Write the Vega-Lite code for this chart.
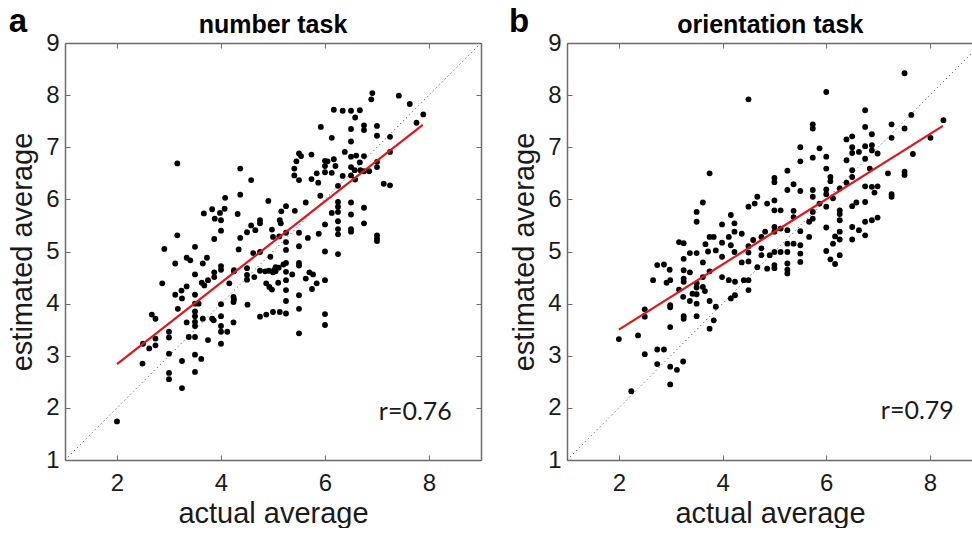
{
  "$schema": "https://vega.github.io/schema/vega-lite/v6.json",
  "background": "white",
  "padding": {"left": 8, "top": 6, "right": 0, "bottom": 0},
  "spacing": 26,
  "config": {
    "view": {"stroke": null},
    "font": "Liberation Sans",
    "axis": {
      "grid": false,
      "domainColor": "#6b6b6b",
      "domainWidth": 1.5,
      "tickColor": "#6b6b6b",
      "tickWidth": 1,
      "tickSize": -5,
      "labelFont": "Liberation Sans",
      "labelFontSize": 24,
      "labelColor": "#1a1a1a",
      "titleFont": "Liberation Sans",
      "titleFontSize": 29,
      "titleFontWeight": "normal",
      "titleColor": "#1a1a1a"
    }
  },
  "datasets": {
    "identity": [{"x": 1, "y": 1}, {"x": 9, "y": 9}],
    "fitNumber": [{"x": 2, "y": 2.84}, {"x": 7.88, "y": 7.43}],
    "fitOrientation": [{"x": 2, "y": 3.5}, {"x": 8.25, "y": 7.41}],
    "numberTask": [
      {"actual": 2.0, "estimated": 1.74}, {"actual": 2.49, "estimated": 2.85}, {"actual": 2.5, "estimated": 3.23}, {"actual": 2.62, "estimated": 3.14},
      {"actual": 2.67, "estimated": 3.79}, {"actual": 2.74, "estimated": 3.71}, {"actual": 2.74, "estimated": 3.33}, {"actual": 2.74, "estimated": 3.2},
      {"actual": 2.87, "estimated": 4.39}, {"actual": 2.91, "estimated": 5.05}, {"actual": 3.0, "estimated": 3.46}, {"actual": 3.0, "estimated": 3.35},
      {"actual": 3.0, "estimated": 3.04}, {"actual": 3.0, "estimated": 2.67}, {"actual": 3.0, "estimated": 2.55}, {"actual": 3.12, "estimated": 4.77},
      {"actual": 3.12, "estimated": 4.17}, {"actual": 3.16, "estimated": 5.31}, {"actual": 3.16, "estimated": 6.69}, {"actual": 3.17, "estimated": 3.9},
      {"actual": 3.24, "estimated": 4.25}, {"actual": 3.25, "estimated": 2.9}, {"actual": 3.25, "estimated": 2.38}, {"actual": 3.34, "estimated": 4.33},
      {"actual": 3.34, "estimated": 4.88}, {"actual": 3.34, "estimated": 3.64}, {"actual": 3.38, "estimated": 3.36}, {"actual": 3.41, "estimated": 4.83},
      {"actual": 3.5, "estimated": 5.09}, {"actual": 3.5, "estimated": 4.56}, {"actual": 3.5, "estimated": 4.17}, {"actual": 3.5, "estimated": 4.0},
      {"actual": 3.5, "estimated": 3.85}, {"actual": 3.5, "estimated": 3.76}, {"actual": 3.5, "estimated": 3.65}, {"actual": 3.5, "estimated": 3.57},
      {"actual": 3.5, "estimated": 3.36}, {"actual": 3.5, "estimated": 3.02}, {"actual": 3.5, "estimated": 2.69}, {"actual": 3.57, "estimated": 4.0},
      {"actual": 3.62, "estimated": 2.94}, {"actual": 3.63, "estimated": 4.4}, {"actual": 3.65, "estimated": 4.77}, {"actual": 3.68, "estimated": 4.35},
      {"actual": 3.65, "estimated": 3.71}, {"actual": 3.73, "estimated": 4.88}, {"actual": 3.75, "estimated": 3.3}, {"actual": 3.83, "estimated": 3.71},
      {"actual": 3.86, "estimated": 3.68}, {"actual": 3.87, "estimated": 4.6}, {"actual": 3.87, "estimated": 4.51}, {"actual": 3.87, "estimated": 5.24},
      {"actual": 3.83, "estimated": 5.81}, {"actual": 3.67, "estimated": 5.73}, {"actual": 3.88, "estimated": 5.63}, {"actual": 4.0, "estimated": 5.6},
      {"actual": 3.98, "estimated": 5.74}, {"actual": 4.07, "estimated": 5.82}, {"actual": 4.08, "estimated": 6.03}, {"actual": 4.0, "estimated": 5.4},
      {"actual": 4.0, "estimated": 4.72}, {"actual": 4.0, "estimated": 4.65}, {"actual": 4.0, "estimated": 3.99}, {"actual": 4.0, "estimated": 3.76},
      {"actual": 4.0, "estimated": 3.57}, {"actual": 4.0, "estimated": 3.46}, {"actual": 4.0, "estimated": 3.23}, {"actual": 4.12, "estimated": 3.46},
      {"actual": 4.16, "estimated": 4.39}, {"actual": 4.24, "estimated": 4.13}, {"actual": 4.24, "estimated": 4.03}, {"actual": 4.24, "estimated": 3.64},
      {"actual": 4.32, "estimated": 5.72}, {"actual": 4.37, "estimated": 6.09}, {"actual": 4.37, "estimated": 6.59}, {"actual": 4.37, "estimated": 5.26},
      {"actual": 4.34, "estimated": 5.04}, {"actual": 4.25, "estimated": 4.64}, {"actual": 4.5, "estimated": 5.37}, {"actual": 4.5, "estimated": 4.68},
      {"actual": 4.5, "estimated": 4.46}, {"actual": 4.51, "estimated": 3.98}, {"actual": 4.58, "estimated": 6.37}, {"actual": 4.58, "estimated": 5.5},
      {"actual": 4.62, "estimated": 4.97}, {"actual": 4.64, "estimated": 4.51}, {"actual": 4.66, "estimated": 5.41}, {"actual": 4.75, "estimated": 5.6},
      {"actual": 4.75, "estimated": 5.54}, {"actual": 4.75, "estimated": 4.63}, {"actual": 4.75, "estimated": 3.75}, {"actual": 4.87, "estimated": 3.79},
      {"actual": 4.91, "estimated": 5.97}, {"actual": 4.87, "estimated": 4.39}, {"actual": 4.93, "estimated": 4.32}, {"actual": 4.98, "estimated": 5.42},
      {"actual": 5.0, "estimated": 5.28}, {"actual": 5.0, "estimated": 3.84}, {"actual": 4.98, "estimated": 4.27}, {"actual": 5.13, "estimated": 5.6},
      {"actual": 5.15, "estimated": 5.54}, {"actual": 5.16, "estimated": 5.77}, {"actual": 5.12, "estimated": 5.29}, {"actual": 5.02, "estimated": 4.64},
      {"actual": 5.11, "estimated": 4.69}, {"actual": 5.13, "estimated": 3.84}, {"actual": 5.0, "estimated": 4.6}, {"actual": 5.05, "estimated": 4.62},
      {"actual": 4.95, "estimated": 4.9}, {"actual": 5.1, "estimated": 4.4}, {"actual": 4.25, "estimated": 4.08}, {"actual": 4.5, "estimated": 4.55},
      {"actual": 3.75, "estimated": 4.45}, {"actual": 3.25, "estimated": 4.1}, {"actual": 5.7, "estimated": 4.6},
      {"actual": 4.85, "estimated": 4.62}, {"actual": 4.92, "estimated": 4.63}, {"actual": 5.05, "estimated": 4.7}, {"actual": 5.2, "estimated": 4.75},
      {"actual": 4.75, "estimated": 4.99}, {"actual": 4.25, "estimated": 4.62},
      {"actual": 5.25, "estimated": 5.87}, {"actual": 5.25, "estimated": 5.36}, {"actual": 5.25, "estimated": 5.18}, {"actual": 5.25, "estimated": 5.03},
      {"actual": 5.25, "estimated": 4.78}, {"actual": 5.25, "estimated": 4.61}, {"actual": 5.25, "estimated": 4.45}, {"actual": 5.25, "estimated": 4.26},
      {"actual": 5.25, "estimated": 4.05}, {"actual": 5.25, "estimated": 3.81}, {"actual": 5.42, "estimated": 5.78}, {"actual": 5.37, "estimated": 4.56},
      {"actual": 5.5, "estimated": 6.88}, {"actual": 5.5, "estimated": 5.36}, {"actual": 5.5, "estimated": 5.1}, {"actual": 5.5, "estimated": 4.78},
      {"actual": 5.5, "estimated": 4.73}, {"actual": 5.5, "estimated": 4.16}, {"actual": 5.5, "estimated": 3.9}, {"actual": 5.5, "estimated": 3.43},
      {"actual": 5.54, "estimated": 6.83}, {"actual": 5.41, "estimated": 6.59}, {"actual": 5.45, "estimated": 6.73}, {"actual": 5.41, "estimated": 6.46},
      {"actual": 5.5, "estimated": 6.37}, {"actual": 5.63, "estimated": 5.94}, {"actual": 5.63, "estimated": 4.48}, {"actual": 5.67, "estimated": 5.26},
      {"actual": 5.74, "estimated": 6.86}, {"actual": 5.74, "estimated": 6.39}, {"actual": 5.77, "estimated": 4.56}, {"actual": 5.84, "estimated": 4.39},
      {"actual": 5.84, "estimated": 6.5}, {"actual": 5.87, "estimated": 6.32}, {"actual": 5.75, "estimated": 4.28}, {"actual": 5.88, "estimated": 5.34},
      {"actual": 5.92, "estimated": 7.39}, {"actual": 5.91, "estimated": 6.07},
      {"actual": 6.0, "estimated": 6.74}, {"actual": 6.0, "estimated": 6.64}, {"actual": 6.0, "estimated": 6.52}, {"actual": 6.0, "estimated": 5.52},
      {"actual": 6.0, "estimated": 5.0}, {"actual": 6.0, "estimated": 4.45}, {"actual": 6.0, "estimated": 3.8}, {"actual": 6.0, "estimated": 3.59},
      {"actual": 6.05, "estimated": 6.73}, {"actual": 6.13, "estimated": 7.18}, {"actual": 6.13, "estimated": 6.51}, {"actual": 6.13, "estimated": 5.74},
      {"actual": 6.17, "estimated": 7.72}, {"actual": 6.17, "estimated": 6.77}, {"actual": 6.2, "estimated": 6.64},
      {"actual": 6.25, "estimated": 6.26}, {"actual": 6.25, "estimated": 5.95}, {"actual": 6.25, "estimated": 5.86}, {"actual": 6.25, "estimated": 5.76},
      {"actual": 6.25, "estimated": 5.58}, {"actual": 6.25, "estimated": 5.43}, {"actual": 6.25, "estimated": 5.33}, {"actual": 6.25, "estimated": 4.95},
      {"actual": 6.34, "estimated": 7.7}, {"actual": 6.34, "estimated": 6.45}, {"actual": 6.38, "estimated": 6.91},
      {"actual": 6.5, "estimated": 7.7}, {"actual": 6.5, "estimated": 7.35}, {"actual": 6.5, "estimated": 7.11}, {"actual": 6.5, "estimated": 6.82},
      {"actual": 6.5, "estimated": 6.62}, {"actual": 6.5, "estimated": 6.46}, {"actual": 6.5, "estimated": 5.94}, {"actual": 6.5, "estimated": 5.71},
      {"actual": 6.5, "estimated": 5.43}, {"actual": 6.5, "estimated": 5.38}, {"actual": 6.58, "estimated": 7.57}, {"actual": 6.6, "estimated": 6.84},
      {"actual": 6.57, "estimated": 6.56}, {"actual": 6.58, "estimated": 6.38}, {"actual": 6.67, "estimated": 7.71}, {"actual": 6.67, "estimated": 6.71},
      {"actual": 6.68, "estimated": 6.56},
      {"actual": 6.75, "estimated": 7.42}, {"actual": 6.75, "estimated": 7.33}, {"actual": 6.75, "estimated": 6.83}, {"actual": 6.75, "estimated": 6.54},
      {"actual": 6.75, "estimated": 5.84}, {"actual": 6.75, "estimated": 5.54}, {"actual": 6.85, "estimated": 6.54}, {"actual": 6.89, "estimated": 7.92},
      {"actual": 6.91, "estimated": 8.04},
      {"actual": 7.0, "estimated": 7.41}, {"actual": 7.0, "estimated": 7.22}, {"actual": 7.0, "estimated": 6.72}, {"actual": 7.0, "estimated": 6.62},
      {"actual": 7.0, "estimated": 5.31}, {"actual": 7.0, "estimated": 5.25}, {"actual": 7.0, "estimated": 5.2}, {"actual": 7.13, "estimated": 6.3},
      {"actual": 7.25, "estimated": 7.2}, {"actual": 7.25, "estimated": 6.91}, {"actual": 7.25, "estimated": 6.27}, {"actual": 7.42, "estimated": 7.99},
      {"actual": 7.63, "estimated": 7.83}, {"actual": 7.76, "estimated": 7.47}, {"actual": 7.89, "estimated": 7.63}
    ],
    "orientationTask": [
      {"actual": 2.0, "estimated": 3.32}, {"actual": 2.24, "estimated": 2.32}, {"actual": 2.37, "estimated": 3.39}, {"actual": 2.5, "estimated": 3.89},
      {"actual": 2.5, "estimated": 3.75}, {"actual": 2.5, "estimated": 3.03}, {"actual": 2.66, "estimated": 4.45}, {"actual": 2.74, "estimated": 4.74},
      {"actual": 2.74, "estimated": 3.12}, {"actual": 2.87, "estimated": 3.12}, {"actual": 2.74, "estimated": 2.84}, {"actual": 2.87, "estimated": 4.75},
      {"actual": 2.92, "estimated": 4.4}, {"actual": 2.98, "estimated": 4.65}, {"actual": 2.99, "estimated": 4.45}, {"actual": 2.99, "estimated": 3.97},
      {"actual": 2.99, "estimated": 3.93}, {"actual": 2.99, "estimated": 3.55}, {"actual": 2.99, "estimated": 2.79}, {"actual": 2.99, "estimated": 2.45},
      {"actual": 3.12, "estimated": 2.73}, {"actual": 3.24, "estimated": 2.89}, {"actual": 3.16, "estimated": 5.18}, {"actual": 3.25, "estimated": 5.16},
      {"actual": 3.16, "estimated": 4.27}, {"actual": 3.25, "estimated": 4.86}, {"actual": 3.25, "estimated": 4.64}, {"actual": 3.25, "estimated": 4.48},
      {"actual": 3.25, "estimated": 4.42}, {"actual": 3.24, "estimated": 4.13}, {"actual": 3.25, "estimated": 3.76}, {"actual": 3.25, "estimated": 3.71},
      {"actual": 3.37, "estimated": 4.97}, {"actual": 3.37, "estimated": 4.6}, {"actual": 3.37, "estimated": 4.05}, {"actual": 3.42, "estimated": 4.19},
      {"actual": 3.5, "estimated": 4.97}, {"actual": 3.5, "estimated": 5.76}, {"actual": 3.5, "estimated": 5.57}, {"actual": 3.5, "estimated": 4.39},
      {"actual": 3.5, "estimated": 4.18}, {"actual": 3.5, "estimated": 4.0}, {"actual": 3.5, "estimated": 3.76}, {"actual": 3.5, "estimated": 4.31},
      {"actual": 3.62, "estimated": 5.94}, {"actual": 3.62, "estimated": 4.79}, {"actual": 3.62, "estimated": 4.51}, {"actual": 3.62, "estimated": 4.32},
      {"actual": 3.66, "estimated": 4.24}, {"actual": 3.67, "estimated": 5.14}, {"actual": 3.72, "estimated": 5.0}, {"actual": 3.75, "estimated": 6.5},
      {"actual": 3.75, "estimated": 5.28}, {"actual": 3.75, "estimated": 4.62}, {"actual": 3.75, "estimated": 4.05}, {"actual": 3.75, "estimated": 3.52},
      {"actual": 3.83, "estimated": 3.68}, {"actual": 3.83, "estimated": 5.28}, {"actual": 3.87, "estimated": 5.02}, {"actual": 3.87, "estimated": 3.94},
      {"actual": 3.99, "estimated": 5.52}, {"actual": 3.99, "estimated": 5.17}, {"actual": 3.99, "estimated": 4.9}, {"actual": 3.99, "estimated": 4.51},
      {"actual": 4.12, "estimated": 5.28}, {"actual": 4.12, "estimated": 4.45}, {"actual": 4.16, "estimated": 5.7}, {"actual": 4.16, "estimated": 5.12},
      {"actual": 4.16, "estimated": 4.1}, {"actual": 4.23, "estimated": 5.54}, {"actual": 4.23, "estimated": 5.38}, {"actual": 4.23, "estimated": 4.99},
      {"actual": 4.24, "estimated": 4.42}, {"actual": 4.24, "estimated": 4.16}, {"actual": 4.37, "estimated": 5.34}, {"actual": 4.37, "estimated": 4.79},
      {"actual": 4.41, "estimated": 4.45}, {"actual": 4.5, "estimated": 4.45}, {"actual": 4.5, "estimated": 4.26}, {"actual": 4.5, "estimated": 5.86},
      {"actual": 4.5, "estimated": 5.1}, {"actual": 4.5, "estimated": 4.98}, {"actual": 4.5, "estimated": 4.81}, {"actual": 4.5, "estimated": 7.92},
      {"actual": 4.62, "estimated": 5.92}, {"actual": 4.59, "estimated": 5.22}, {"actual": 4.67, "estimated": 6.05}, {"actual": 4.67, "estimated": 4.7},
      {"actual": 4.75, "estimated": 5.28}, {"actual": 4.75, "estimated": 5.06}, {"actual": 4.75, "estimated": 4.93}, {"actual": 4.86, "estimated": 5.92},
      {"actual": 4.86, "estimated": 4.67}, {"actual": 4.82, "estimated": 5.38}, {"actual": 4.91, "estimated": 4.93},
      {"actual": 5.0, "estimated": 6.41}, {"actual": 5.0, "estimated": 6.33}, {"actual": 5.0, "estimated": 5.98}, {"actual": 5.0, "estimated": 5.79},
      {"actual": 5.0, "estimated": 5.47}, {"actual": 5.0, "estimated": 5.38}, {"actual": 5.0, "estimated": 4.99}, {"actual": 5.0, "estimated": 4.74},
      {"actual": 5.0, "estimated": 4.68}, {"actual": 5.12, "estimated": 5.79}, {"actual": 5.12, "estimated": 5.44}, {"actual": 5.12, "estimated": 4.99},
      {"actual": 5.25, "estimated": 6.55}, {"actual": 5.25, "estimated": 6.18}, {"actual": 5.25, "estimated": 5.41}, {"actual": 5.25, "estimated": 5.15},
      {"actual": 5.25, "estimated": 4.99}, {"actual": 5.25, "estimated": 4.77}, {"actual": 5.25, "estimated": 4.65}, {"actual": 5.25, "estimated": 4.58},
      {"actual": 5.37, "estimated": 6.29}, {"actual": 5.37, "estimated": 5.78}, {"actual": 5.37, "estimated": 5.66}, {"actual": 5.37, "estimated": 5.15},
      {"actual": 5.5, "estimated": 7.0}, {"actual": 5.5, "estimated": 6.73}, {"actual": 5.5, "estimated": 6.16}, {"actual": 5.5, "estimated": 5.39},
      {"actual": 5.5, "estimated": 5.12}, {"actual": 5.5, "estimated": 4.96}, {"actual": 5.5, "estimated": 4.8}, {"actual": 5.67, "estimated": 5.57},
      {"actual": 5.67, "estimated": 5.28}, {"actual": 5.74, "estimated": 7.44}, {"actual": 5.74, "estimated": 7.36}, {"actual": 5.74, "estimated": 6.8},
      {"actual": 5.74, "estimated": 6.18}, {"actual": 5.74, "estimated": 6.05}, {"actual": 5.74, "estimated": 5.76}, {"actual": 5.74, "estimated": 5.63},
      {"actual": 5.87, "estimated": 6.98}, {"actual": 5.87, "estimated": 5.92},
      {"actual": 6.0, "estimated": 8.06}, {"actual": 6.0, "estimated": 6.82}, {"actual": 6.0, "estimated": 6.59}, {"actual": 6.0, "estimated": 6.19},
      {"actual": 6.0, "estimated": 6.1}, {"actual": 6.0, "estimated": 5.86}, {"actual": 6.0, "estimated": 5.46}, {"actual": 6.0, "estimated": 5.01},
      {"actual": 6.08, "estimated": 6.43}, {"actual": 6.08, "estimated": 6.35}, {"actual": 6.08, "estimated": 4.85}, {"actual": 6.17, "estimated": 4.76},
      {"actual": 6.13, "estimated": 6.02}, {"actual": 6.13, "estimated": 5.15}, {"actual": 6.17, "estimated": 5.29},
      {"actual": 6.26, "estimated": 6.21}, {"actual": 6.26, "estimated": 5.79}, {"actual": 6.26, "estimated": 5.72}, {"actual": 6.26, "estimated": 5.6},
      {"actual": 6.26, "estimated": 5.38}, {"actual": 6.26, "estimated": 5.23}, {"actual": 6.26, "estimated": 4.93},
      {"actual": 6.39, "estimated": 7.15}, {"actual": 6.39, "estimated": 6.75}, {"actual": 6.39, "estimated": 6.32},
      {"actual": 6.5, "estimated": 7.21}, {"actual": 6.5, "estimated": 7.0}, {"actual": 6.5, "estimated": 6.89}, {"actual": 6.5, "estimated": 6.56},
      {"actual": 6.5, "estimated": 6.43}, {"actual": 6.5, "estimated": 5.87}, {"actual": 6.5, "estimated": 5.47}, {"actual": 6.5, "estimated": 5.23},
      {"actual": 6.58, "estimated": 5.94}, {"actual": 6.63, "estimated": 6.91}, {"actual": 6.63, "estimated": 5.41},
      {"actual": 6.75, "estimated": 7.71}, {"actual": 6.75, "estimated": 7.39}, {"actual": 6.75, "estimated": 7.02}, {"actual": 6.75, "estimated": 6.78},
      {"actual": 6.75, "estimated": 6.25}, {"actual": 6.75, "estimated": 5.95}, {"actual": 6.75, "estimated": 5.57}, {"actual": 6.75, "estimated": 5.31},
      {"actual": 6.84, "estimated": 6.59}, {"actual": 6.88, "estimated": 7.25}, {"actual": 6.88, "estimated": 7.04}, {"actual": 6.88, "estimated": 6.94},
      {"actual": 6.88, "estimated": 6.24}, {"actual": 6.93, "estimated": 6.13}, {"actual": 6.99, "estimated": 6.88}, {"actual": 6.99, "estimated": 6.25},
      {"actual": 6.88, "estimated": 5.6}, {"actual": 6.99, "estimated": 5.65}, {"actual": 7.19, "estimated": 6.5}, {"actual": 7.26, "estimated": 7.44},
      {"actual": 7.26, "estimated": 7.18}, {"actual": 7.26, "estimated": 6.1}, {"actual": 7.26, "estimated": 6.05}, {"actual": 7.51, "estimated": 8.42},
      {"actual": 7.51, "estimated": 7.36}, {"actual": 7.51, "estimated": 6.53}, {"actual": 7.51, "estimated": 6.47}, {"actual": 7.64, "estimated": 7.62},
      {"actual": 7.67, "estimated": 6.87}, {"actual": 8.01, "estimated": 7.18}, {"actual": 8.26, "estimated": 7.52}
    ]
  },
  "hconcat": [
    {
      "width": 416,
      "height": 417,
      "layer": [
        {
          "data": {"name": "identity"},
          "mark": {"type": "line", "color": "#555555", "strokeWidth": 1, "strokeDash": [1.2, 3], "clip": true},
          "encoding": {
            "x": {"field": "x", "type": "quantitative", "scale": {"domain": [1, 9], "nice": false, "zero": false},
                  "axis": {"orient": "bottom", "values": [2, 4, 6, 8], "title": "actual average", "labelPadding": 16, "titlePadding": 4}},
            "y": {"field": "y", "type": "quantitative", "scale": {"domain": [1, 9], "nice": false, "zero": false},
                  "axis": {"orient": "left", "values": [1, 2, 3, 4, 5, 6, 7, 8, 9], "title": "estimated average", "labelPadding": 11, "titlePadding": 8}}
          }
        },
        {
          "data": {"name": "numberTask"},
          "mark": {"type": "circle", "size": 34, "color": "#000000", "opacity": 1},
          "encoding": {
            "x": {"field": "actual", "type": "quantitative", "axis": {"orient": "top", "labels": false, "title": null, "values": [2, 4, 6, 8]}},
            "y": {"field": "estimated", "type": "quantitative", "axis": {"orient": "right", "labels": false, "title": null, "values": [1, 2, 3, 4, 5, 6, 7, 8, 9]}}
          }
        },
        {
          "data": {"name": "fitNumber"},
          "mark": {"type": "line", "color": "#e0161c", "strokeWidth": 2.2},
          "encoding": {
            "x": {"field": "x", "type": "quantitative", "axis": null},
            "y": {"field": "y", "type": "quantitative", "axis": null}
          }
        },
        {
          "data": {"values": [{"label": "r=0.76"}]},
          "mark": {"type": "text", "font": "Lato", "fontSize": 25, "color": "#1a1a1a", "align": "right", "baseline": "alphabetic"},
          "encoding": {
            "x": {"datum": 8.44, "axis": null},
            "y": {"datum": 1.77, "axis": null},
            "text": {"field": "label"}
          }
        },
        {
          "data": {"values": [{"label": "number task"}]},
          "mark": {"type": "text", "font": "Liberation Sans", "fontSize": 25, "fontWeight": "bold", "color": "#000000", "align": "center", "baseline": "alphabetic"},
          "encoding": {
            "x": {"datum": 5, "axis": null},
            "y": {"datum": 9.19, "axis": null},
            "text": {"field": "label"}
          }
        },
        {
          "data": {"values": [{"label": "a"}]},
          "mark": {"type": "text", "font": "Liberation Sans", "fontSize": 33, "fontWeight": "bold", "color": "#000000", "align": "left", "baseline": "alphabetic"},
          "encoding": {
            "x": {"datum": -0.08, "axis": null},
            "y": {"datum": 9.21, "axis": null},
            "text": {"field": "label"}
          }
        }
      ],
      "resolve": {"axis": {"x": "independent", "y": "independent"}}
    },
    {
      "width": 406,
      "height": 417,
      "layer": [
        {
          "data": {"name": "identity"},
          "mark": {"type": "line", "color": "#555555", "strokeWidth": 1, "strokeDash": [1.2, 3], "clip": true},
          "encoding": {
            "x": {"field": "x", "type": "quantitative", "scale": {"domain": [1, 8.83], "nice": false, "zero": false},
                  "axis": {"orient": "bottom", "values": [2, 4, 6, 8], "title": "actual average", "labelPadding": 16, "titlePadding": 4}},
            "y": {"field": "y", "type": "quantitative", "scale": {"domain": [1, 9], "nice": false, "zero": false},
                  "axis": {"orient": "left", "values": [1, 2, 3, 4, 5, 6, 7, 8, 9], "title": "estimated average", "labelPadding": 11, "titlePadding": 8}}
          }
        },
        {
          "data": {"name": "orientationTask"},
          "mark": {"type": "circle", "size": 34, "color": "#000000", "opacity": 1},
          "encoding": {
            "x": {"field": "actual", "type": "quantitative", "axis": {"orient": "top", "labels": false, "title": null, "values": [2, 4, 6, 8]}},
            "y": {"field": "estimated", "type": "quantitative", "axis": null}
          }
        },
        {
          "data": {"name": "fitOrientation"},
          "mark": {"type": "line", "color": "#e0161c", "strokeWidth": 2.2},
          "encoding": {
            "x": {"field": "x", "type": "quantitative", "axis": null},
            "y": {"field": "y", "type": "quantitative", "axis": null}
          }
        },
        {
          "data": {"values": [{"label": "r=0.79"}]},
          "mark": {"type": "text", "font": "Lato", "fontSize": 25, "color": "#1a1a1a", "align": "right", "baseline": "alphabetic"},
          "encoding": {
            "x": {"datum": 8.46, "axis": null},
            "y": {"datum": 1.79, "axis": null},
            "text": {"field": "label"}
          }
        },
        {
          "data": {"values": [{"label": "orientation task"}]},
          "mark": {"type": "text", "font": "Liberation Sans", "fontSize": 25, "fontWeight": "bold", "color": "#000000", "align": "center", "baseline": "alphabetic"},
          "encoding": {
            "x": {"datum": 4.92, "axis": null},
            "y": {"datum": 9.19, "axis": null},
            "text": {"field": "label"}
          }
        },
        {
          "data": {"values": [{"label": "b"}]},
          "mark": {"type": "text", "font": "Liberation Sans", "fontSize": 33, "fontWeight": "bold", "color": "#000000", "align": "left", "baseline": "alphabetic"},
          "encoding": {
            "x": {"datum": -0.12, "axis": null},
            "y": {"datum": 9.21, "axis": null},
            "text": {"field": "label"}
          }
        }
      ],
      "resolve": {"axis": {"x": "independent", "y": "independent"}}
    }
  ]
}
